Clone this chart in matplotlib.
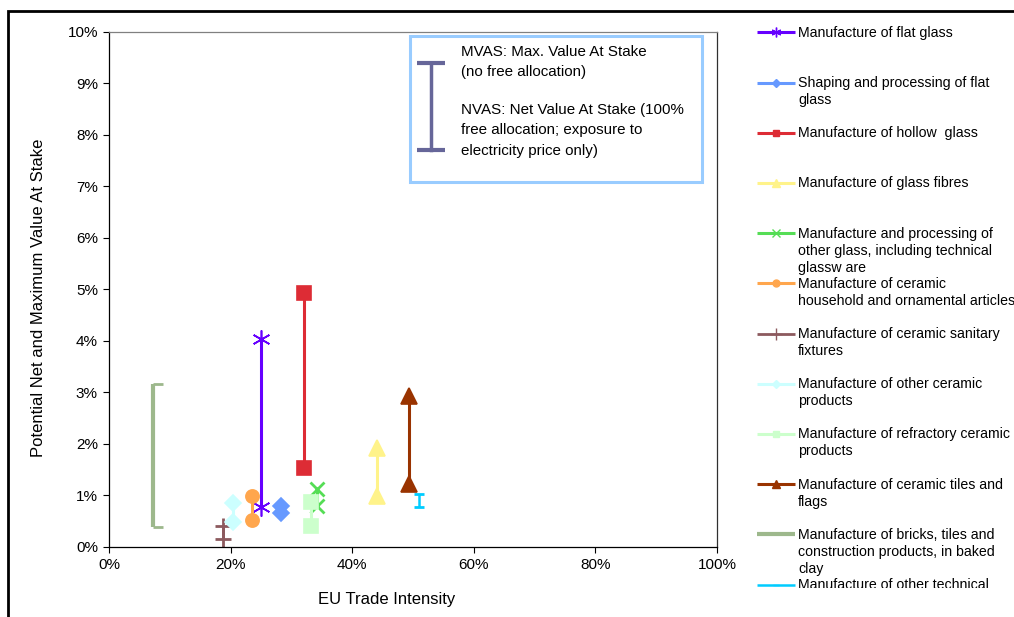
import matplotlib
matplotlib.use('Agg')
import matplotlib.pyplot as plt
import matplotlib.patches as pch
from matplotlib.lines import Line2D
from matplotlib.path import Path
from matplotlib.ticker import PercentFormatter
from matplotlib.transforms import Bbox, TransformedBbox

plt.rcParams['font.family'] = ['Liberation Sans', 'DejaVu Sans']
plt.rcParams['font.size'] = 10

sectors = [
    'Manufacture of flat glass',
    'Shaping and processing of flat\nglass',
    'Manufacture of hollow  glass',
    'Manufacture of glass fibres',
    'Manufacture and processing of\nother glass, including technical\nglassw are',
    'Manufacture of ceramic\nhousehold and ornamental articles',
    'Manufacture of ceramic sanitary\nfixtures',
    'Manufacture of other ceramic\nproducts',
    'Manufacture of refractory ceramic\nproducts',
    'Manufacture of ceramic tiles and\nflags',
    'Manufacture of bricks, tiles and\nconstruction products, in baked\nclay',
    'Manufacture of other technical\nceramic products',
]
trade_intensity = [0.250, 0.283, 0.320, 0.440, 0.342, 0.235, 0.188, 0.204, 0.333, 0.494, 0.073, 0.510]
nvas = [0.0078, 0.0065, 0.0153, 0.0098, 0.0080, 0.0052, 0.0016, 0.0049, 0.0041, 0.0122, 0.0039, 0.0078]
mvas = [0.0404, 0.0080, 0.0493, 0.0192, 0.0112, 0.0099, 0.0041, 0.0085, 0.0087, 0.0293, 0.0316, 0.0103]

half_cap = Path([(0, 0), (1, 0)], [Path.MOVETO, Path.LINETO])

# color, marker, markersize, linewidth, legend markersize
styles = [
    ('#6600FF', (6, 2, 0), 13, 2.2, 7),
    ('#6699FF', 'D', 8.5, 2.2, 4),
    ('#DD2C35', 's', 9.5, 2.2, 5),
    ('#FFF38A', '^', 11, 2.2, 6),
    ('#55DD55', 'x', 10.5, 2.2, 6),
    ('#FFA64D', 'o', 9.5, 2.2, 5),
    ('#8C5A5E', '+', 12, 2.0, 8),
    ('#CCFFFF', 'D', 8.5, 2.2, 4),
    ('#CCFFCC', 's', 9.5, 2.2, 5),
    ('#993300', '^', 11, 2.2, 6),
    ('#9DB88C', half_cap, 14, 3.0, 0),
    ('#00CCFF', '_', 7, 1.8, 5),
]

fig = plt.figure(figsize=(10.14, 6.17), dpi=100)
ax = fig.add_axes([0.1075, 0.1135, 0.5996, 0.8347])

for x, lo, hi, st in zip(trade_intensity, nvas, mvas, styles):
    color, marker, ms, lw, _ = st
    ax.plot([x, x], [lo, hi], color=color, lw=lw, marker=marker, ms=ms,
            mfc=color, mec=color, mew=2 if marker in ('x', '+', '_') or marker is half_cap else 1.2,
            solid_capstyle='butt')

ax.set_xlim(0, 1)
ax.set_ylim(0, 0.10)
ax.set_xticks([0, 0.2, 0.4, 0.6, 0.8, 1.0])
ax.set_yticks([i / 100 for i in range(11)])
ax.xaxis.set_major_formatter(PercentFormatter(1.0, decimals=0))
ax.yaxis.set_major_formatter(PercentFormatter(1.0, decimals=0))
ax.tick_params(direction='out', length=4, width=0.8, labelsize=11, pad=4)
ax.spines['top'].set_color('#808080')
ax.spines['right'].set_color('#303030')
for s in ax.spines.values():
    s.set_linewidth(0.9)

ax.set_xlabel('EU Trade Intensity', fontsize=12)
ax.set_ylabel('Potential Net and Maximum Value At Stake', fontsize=12)
ax.xaxis.set_label_coords(0.456, -0.087)
ax.yaxis.set_label_coords(-0.104, 0.483)

# explanation box
ax.add_patch(pch.Rectangle((0.495, 0.709), 0.48, 0.283, transform=ax.transAxes,
                           fill=True, fc='white', ec='#99CCFF', lw=2.2, zorder=5))
ax.plot([0.530, 0.530], [0.771, 0.940], transform=ax.transAxes, color='#666699',
        lw=2.5, marker='_', ms=20, mew=3, zorder=6)
box_text = [
    (0.974, 'MVAS: Max. Value At Stake'),
    (0.935, '(no free allocation)'),
    (0.863, 'NVAS: Net Value At Stake (100%'),
    (0.824, 'free allocation; exposure to'),
    (0.783, 'electricity price only)'),
]
for y, t in box_text:
    ax.text(0.579, y, t, transform=ax.transAxes, fontsize=10.9, va='top', ha='left', zorder=6)

# legend drawn by hand to mimic the wrapped, clipped Excel legend
clip = TransformedBbox(Bbox([[0.72, 1 - 588 / 617], [1.0, 1.0]]), fig.transFigure)
for i, (name, st) in enumerate(zip(sectors, styles)):
    color, marker, ms, lw, lms = st
    y = 1 - (32.3 + 50.2 * i) / 617
    ln = Line2D([757 / 1014, 776 / 1014, 795 / 1014], [y, y, y], transform=fig.transFigure,
                color=color, lw=lw, marker=marker if lms else None, ms=lms, mfc=color,
                mec=color, markevery=[1], solid_capstyle='butt')
    ln.set_clip_box(clip)
    fig.add_artist(ln)
    t = fig.text(798 / 1014, y + 6.5 / 617, name, fontsize=10.2, va='top', ha='left',
                 linespacing=1.27)
    t.set_clip_box(clip)
    t.set_clip_on(True)

# outer chart frame
fig.add_artist(pch.Rectangle((8 / 1014, -0.1), 1.2, 1 - 11 / 617 + 0.1,
                             transform=fig.transFigure, fill=False, ec='black', lw=2))

fig.savefig('out.png', dpi=100)
